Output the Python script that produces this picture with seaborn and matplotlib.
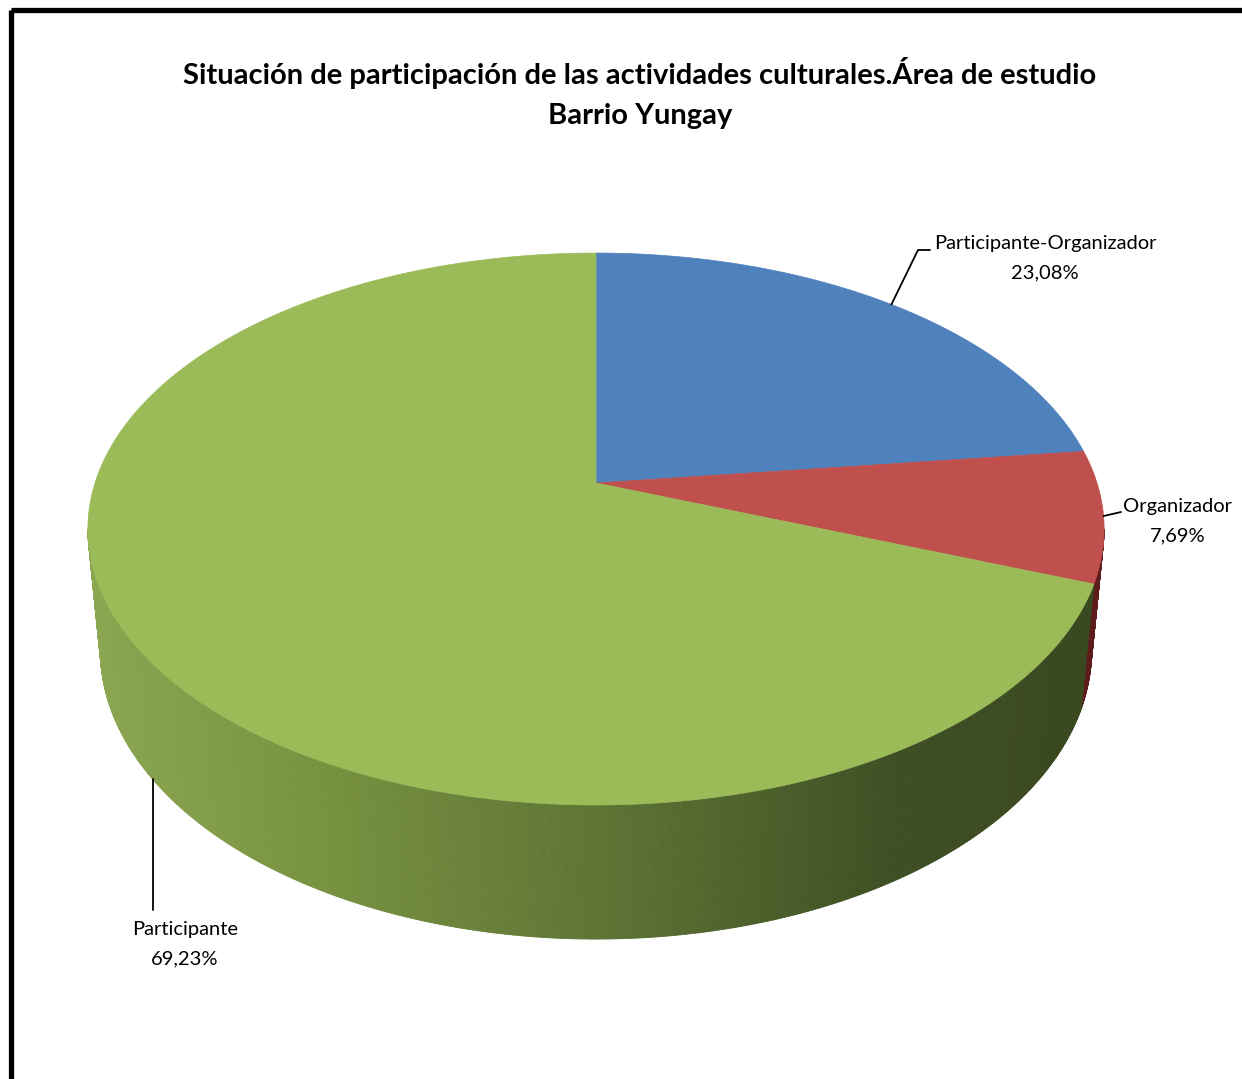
import numpy as np
import matplotlib
matplotlib.use("Agg")
import matplotlib.pyplot as plt
import seaborn as sns
from matplotlib.patches import Polygon, Rectangle
from matplotlib.collections import PolyCollection
from matplotlib.colors import to_rgb

# ---- data ----
categories = ["Participante-Organizador", "Organizador", "Participante"]
shares = [23.08, 7.69, 69.23]
label_text = ["23,08%", "7,69%", "69,23%"]
top_colors = ["#4F81BD", "#C0504D", "#9BBB59"]
title = "Situación de participación de las actividades culturales.Área de estudio\nBarrio Yungay"

sns.set_theme(style="white")
plt.rcParams["font.family"] = ["Lato", "DejaVu Sans"]
plt.rcParams["text.color"] = "black"

W, H = 1242, 1079
fig = plt.figure(figsize=(W / 100, H / 100), dpi=100)
ax = fig.add_axes([0, 0, 1, 1])
ax.set_xlim(0, W)
ax.set_ylim(H, 0)
ax.axis("off")

# ---- perspective disc geometry (pixel space) ----
CX, CY = 596.0, 483.0
A, B = 501.0, 268.3
K = 0.1667        # far edge appears smaller
M = 0.0245        # bottom face slightly farther away
C = 122.9         # disc thickness


def proj(theta_deg, depth=0.0):
    t = np.radians(theta_deg)
    u, v = np.sin(t), np.cos(t)
    w = 1 + K * v + M * depth
    return CX + A * u / w, CY - (B * v - C * depth) / w


total = sum(shares)
bounds = np.concatenate([[0], np.cumsum(shares) / total * 360.0])

# visible side-wall range (front half of the rim)
th_r = np.degrees(np.arccos(-K))
th_l = 360 - th_r


def green_side(x):
    stops_x = [95, 330, 600, 900, 1100]
    stops_c = ["#8BA651", "#76913F", "#5E7434", "#3E4E23", "#3A4820"]
    rgb = np.array([to_rgb(c) for c in stops_c])
    return tuple(np.interp(x, stops_x, rgb[:, i]) for i in range(3))


side_fn = [lambda x: to_rgb("#2F4870"), lambda x: to_rgb("#5C1D1C"), green_side]

# side walls
polys, cols = [], []
for i in range(len(shares)):
    a0, a1 = max(bounds[i], th_r), min(bounds[i + 1], th_l)
    if a1 <= a0:
        continue
    ts = np.linspace(a0, a1, max(2, int((a1 - a0) * 4)))
    for t0, t1 in zip(ts[:-1], ts[1:]):
        p = [proj(t0), proj(t1), proj(t1, 1), proj(t0, 1)]
        polys.append(p)
        cols.append(side_fn[i]((p[0][0] + p[1][0]) / 2))
ax.add_collection(PolyCollection(polys, facecolors=cols, edgecolors=cols,
                                 linewidths=0.6, antialiased=True))

# top faces
for i in range(len(shares)):
    ts = np.linspace(bounds[i], bounds[i + 1], 400)
    pts = [(CX, CY)] + [proj(t) for t in ts]
    ax.add_patch(Polygon(pts, closed=True, facecolor=top_colors[i],
                         edgecolor=top_colors[i], linewidth=0.5))

# ---- data labels with leader lines ----
mids = (bounds[:-1] + bounds[1:]) / 2
fs = 14.5
ls = 1.85
# Participante-Organizador
x0, y0 = proj(mids[0])
ax.plot([x0, 918, 930], [y0, 250, 250], color="black", lw=1.3)
ax.text(1045, 258, f"{categories[0]}\n{label_text[0]}", ha="center", va="center",
        fontsize=fs, linespacing=ls, color="black")
# Organizador
x1, y1 = proj(mids[1])
ax.plot([x1, 1121], [y1, 512], color="black", lw=1.3)
ax.text(1178, 521, f"{categories[1]}\n{label_text[1]}", ha="center", va="center",
        fontsize=fs, linespacing=ls, color="black")
# Participante
x2, y2 = proj(mids[2], 1)
ax.plot([x2, x2], [y2, 910], color="black", lw=1.3)
ax.text(185, 944, f"{categories[2]}\n{label_text[2]}", ha="center", va="center",
        fontsize=fs, linespacing=ls, color="black")

# ---- title ----
ax.text(640, 93, title, ha="center", va="center", fontsize=21,
        fontweight="bold", linespacing=1.7, color="black")

# chart frame (right and bottom edges fall outside the canvas)
ax.add_patch(Rectangle((10.5, 9.5), 1300, 1200, fill=False, edgecolor="black",
                       linewidth=3.8, clip_on=False))

fig.savefig("out.png", dpi=100)
